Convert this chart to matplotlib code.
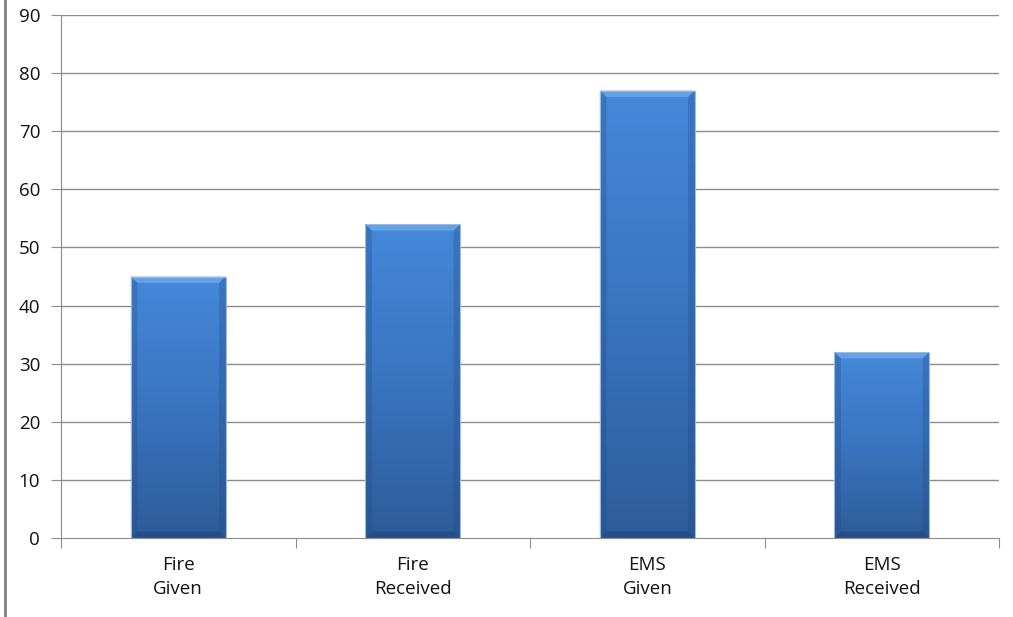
import matplotlib
matplotlib.use("Agg")
import matplotlib.pyplot as plt
import numpy as np
from matplotlib.patches import Polygon, Rectangle
from matplotlib.colors import LinearSegmentedColormap
from matplotlib.lines import Line2D

categories = ["Fire\nGiven", "Fire\nReceived", "EMS\nGiven", "EMS\nReceived"]
values = [45, 54, 77, 32]
yticks = [0, 10, 20, 30, 40, 50, 60, 70, 80, 90]

plt.rcParams['font.family'] = ['Open Sans', 'DejaVu Sans']

fig = plt.figure(figsize=(10.13, 6.17), dpi=100)
ax = fig.add_axes([61/1013, 1-538/617, (999-61)/1013, (538-15)/617])

fig.add_artist(Line2D([5/1013, 5/1013], [0, 1], transform=fig.transFigure,
                      color='#808080', lw=2))

n = len(categories)
ax.set_xlim(-0.5, n-0.5)
ax.set_ylim(0, 90)

grid_c = '#8c8c8c'
for y in yticks[1:]:
    ax.axhline(y, color=grid_c, lw=1, zorder=0)

cmap = LinearSegmentedColormap.from_list('b', ['#2e5c9a', '#3a74bf', '#4589da'])
w = 0.405
bx = w * 0.07
by = 1.1
for i, v in enumerate(values):
    x0, x1 = i - w/2, i + w/2
    grad = np.linspace(0, 1, 256).reshape(-1, 1)
    im = ax.imshow(grad, cmap=cmap, origin='lower', aspect='auto',
                   extent=[x0, x1, 0, v], zorder=2)
    rect = Rectangle((x0, 0), w, v, transform=ax.transData, facecolor='none')
    im.set_clip_path(rect)
    top = Polygon([[x0, v], [x1, v], [x1-bx, v-by], [x0+bx, v-by]],
                  closed=True, facecolor='#6aa6ea', edgecolor='none', alpha=0.85, zorder=3)
    left = Polygon([[x0, v], [x0+bx, v-by], [x0+bx, by], [x0, 0]],
                   closed=True, facecolor='#1f4a85', edgecolor='none', alpha=0.3, zorder=3)
    right = Polygon([[x1, v], [x1-bx, v-by], [x1-bx, by], [x1, 0]],
                    closed=True, facecolor='#1f4a85', edgecolor='none', alpha=0.3, zorder=3)
    bot = Polygon([[x0, 0], [x1, 0], [x1-bx, by], [x0+bx, by]],
                  closed=True, facecolor='#1d4274', edgecolor='none', alpha=0.5, zorder=3)
    for p in (top, left, right, bot):
        ax.add_patch(p)
    ax.add_patch(Rectangle((x0, 0), w, v, facecolor='none', edgecolor='#9fb9d8',
                           lw=0.8, zorder=4))

for s in ['top', 'right']:
    ax.spines[s].set_visible(False)
ax.spines['left'].set_color(grid_c)
ax.spines['bottom'].set_color(grid_c)
ax.spines['left'].set_zorder(5)
ax.spines['bottom'].set_zorder(5)

ax.set_yticks(yticks)
ax.set_yticklabels([str(t) for t in yticks], fontsize=13.5, color='#111111')
ax.tick_params(axis='y', length=7, color=grid_c, pad=8)

ax.set_xticks([i - 0.5 for i in range(n+1)])
ax.set_xticklabels([''] * (n+1))
ax.tick_params(axis='x', which='major', length=7, color=grid_c)
ax.set_xticks(list(range(n)), minor=True)
ax.set_xticklabels(categories, minor=True, fontsize=13.5, color='#111111', linespacing=1.45)
ax.tick_params(axis='x', which='minor', length=0, pad=13)

fig.savefig('out.png', dpi=100)
